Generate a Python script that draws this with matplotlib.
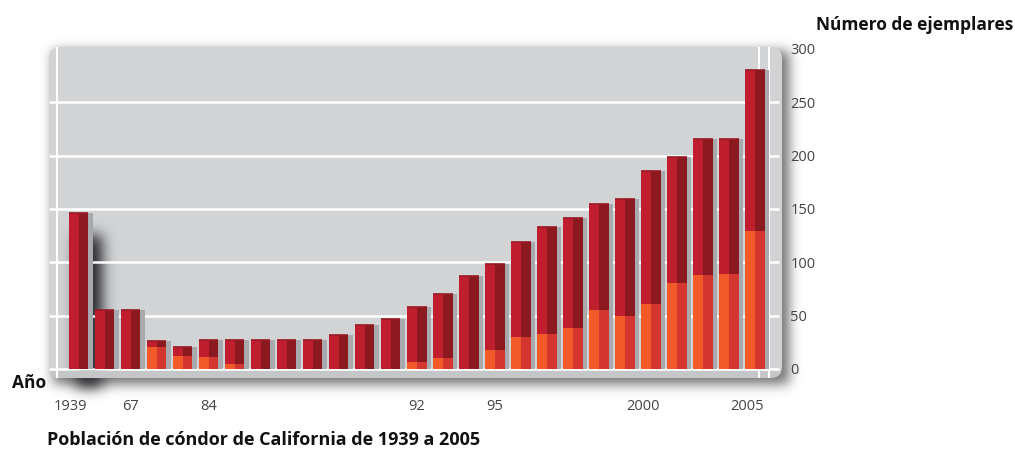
import numpy as np
import matplotlib
matplotlib.use("Agg")
import matplotlib.pyplot as plt
import matplotlib.transforms as mtransforms
from matplotlib.patches import FancyBboxPatch, Rectangle

plt.rcParams['font.family'] = ['Open Sans', 'DejaVu Sans']

# datos (27 barras)
totales = [146, 55, 55, 26, 21, 27, 27, 27, 27, 27, 32, 41, 47, 58, 70, 87,
           98, 119, 133, 142, 155, 159, 186, 199, 216, 216, 280]
libres = [0, 0, 0, 21, 12, 11, 5, 0, 0, 0, 0, 0, 0, 7, 10, 0,
          18, 30, 33, 38, 55, 50, 61, 81, 88, 89, 129]
etiq_pos = [0, 2, 5, 13, 16, 22, 26]
etiq_txt = ['1939', '67', '84', '92', '95', '2000', '2005']
yticks = [0, 50, 100, 150, 200, 250, 300]

W, H = 1015, 450
rojo_l, rojo_d = '#be1e2d', '#8c1820'
nar_l, nar_d = '#f15a29', '#d3352f'
panel_c = '#d1d3d4'

fig = plt.figure(figsize=(W / 100, H / 100), dpi=100)
fig.patch.set_facecolor('white')

# fondo en pixeles
bg = fig.add_axes([0, 0, 1, 1])
bg.set_xlim(0, W)
bg.set_ylim(H, 0)
bg.axis('off')
bg.set_zorder(0)

# ejes principales
PL, PR, PT, PB = 49, 782, 47, 378
x0px, dx = 78.5, 26.02
y0px, dy = 369, 320 / 300
ax = fig.add_axes([PL / W, 1 - PB / H, (PR - PL) / W, (PB - PT) / H])
ax.set_zorder(1)
ax.patch.set_alpha(0)
ax.set_xlim((PL - x0px) / dx, (PR - x0px) / dx)
ax.set_ylim((y0px - PB) / dy, (y0px - PT) / dy)


def px_x(p):
    return (p - x0px) / dx


def blur(a, s):
    r = int(3 * s)
    k = np.exp(-0.5 * (np.arange(-r, r + 1) / s) ** 2)
    k /= k.sum()
    a = np.apply_along_axis(lambda m: np.convolve(m, k, mode='same'), 0, a)
    a = np.apply_along_axis(lambda m: np.convolve(m, k, mode='same'), 1, a)
    return a


def sombra(x0, y0, x1, y1, s, rgb, alpha):
    m = np.zeros((H, W))
    m[int(y0):int(y1), int(x0):int(x1)] = 1
    m = blur(m, s)
    img = np.zeros((H, W, 4))
    img[..., :3] = rgb
    img[..., 3] = np.clip(m * alpha, 0, 1)
    return img


# sombra del panel
bg.imshow(sombra(PL + 4, PT + 4, PR + 7, PB + 6, 6, (0.3, 0.3, 0.3), 0.8),
          extent=[0, W, H, 0], origin='upper', zorder=1, interpolation='bilinear')
panel = FancyBboxPatch((PL, PT), PR - PL, PB - PT,
                       boxstyle='round,pad=0,rounding_size=12',
                       fc=panel_c, ec='none', zorder=2)
bg.add_patch(panel)

# sombra de la barra de 1939
n = len(totales)
x = np.arange(n)
w = 0.75
bx0, by0 = ax.transData.transform((x[0] - w / 2, totales[0]))
bx1, by1 = ax.transData.transform((x[0] + w / 2, 0))
bg.imshow(sombra(bx0 + 8, H - by0 + 22, bx1 + 14, H - by1 + 18, 7,
                 (0.2, 0.2, 0.22), 1.1),
          extent=[0, W, H, 0], origin='upper', zorder=3, interpolation='bilinear')

# franja inferior
franja = Rectangle((PL, y0px + 2), PR - PL, PB - y0px, fc='#c5c6c8', ec='none', zorder=4)
bg.add_patch(franja)
franja.set_clip_path(panel)

# lineas blancas
ax.hlines(yticks[:-1], px_x(PL), px_x(779), color='white', lw=1.8, zorder=1)
for p in (57, 759, 769):
    ax.axvline(px_x(p), color='white', lw=1.5, zorder=1)

# barras
captivos = np.array(totales) - np.array(libres)
ax.bar(x + 0.17, totales, w, color='#a7a9ac', zorder=2)
ax.bar(x - w / 4, libres, w / 2, color=nar_l, zorder=3)
ax.bar(x + w / 4, libres, w / 2, color=nar_d, zorder=3)
ax.bar(x - w / 4, captivos, w / 2, bottom=libres, color=rojo_l, zorder=3)
ax.bar(x + w / 4, captivos, w / 2, bottom=libres, color=rojo_d, zorder=3)
ax.hlines(totales, x - w / 2, x + w / 2, color='#9a1a24', lw=1.2, zorder=4)

for s in ax.spines.values():
    s.set_visible(False)
ax.set_xticks(etiq_pos, etiq_txt)
ax.tick_params(axis='x', length=0, pad=15, labelsize=10.5, labelcolor='#444444')
desp = mtransforms.ScaledTranslation(-8 / 100, 0, fig.dpi_scale_trans)
for lab in ax.get_xticklabels():
    if len(lab.get_text()) == 4:
        lab.set_transform(lab.get_transform() + desp)
ax.yaxis.tick_right()
ax.set_yticks(yticks, [str(v) for v in yticks])
ax.tick_params(axis='y', length=0, pad=6, labelsize=10.5, labelcolor='#444444')

bg.text(1013, 25, 'Número de ejemplares', ha='right', va='center',
        fontsize=12.5, fontweight='bold', color='#111111')
bg.text(12, 383, 'Año', ha='left', va='center', fontsize=12.5,
        fontweight='bold', color='#111111')
bg.text(47, 440, 'Población de cóndor de California de 1939 a 2005',
        ha='left', va='center', fontsize=13, fontweight='bold', color='#111111')

fig.savefig('out.png', dpi=100)
